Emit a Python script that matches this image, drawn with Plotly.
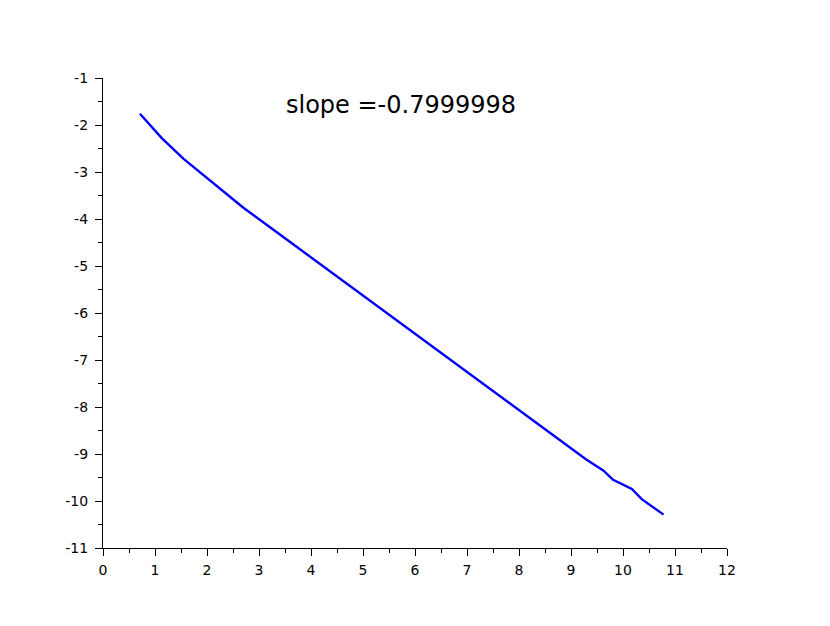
import plotly.graph_objects as go

x_vals = [0.71, 1.13, 1.55, 2.12, 2.70, 3.5, 4.5, 5.33, 6.5, 7.63, 8.79, 9.02, 9.30, 9.62, 9.81, 10.17, 10.36, 10.78]
y_vals = [-1.76, -2.28, -2.72, -3.24, -3.76, -4.41, -5.22, -5.90, -6.85, -7.76, -8.70, -8.89, -9.12, -9.35, -9.55, -9.745, -9.96, -10.29]
label_text = "slope =-0.7999998"
x_ticks = list(range(0, 13))
y_ticks = list(range(-11, 0))

fig = go.Figure()
fig.add_trace(go.Scatter(x=x_vals, y=y_vals, mode="lines",
                         line=dict(color="#0000ff", width=2.4), showlegend=False))

fig.add_annotation(x=5.73, y=-1.57, text=label_text, showarrow=False,
                   font=dict(size=24, color="black", family="DejaVu Sans"),
                   xanchor="center", yanchor="middle")

axis_common = dict(showline=True, linecolor="black", linewidth=1.3, ticks="outside",
                   ticklen=7, tickcolor="black", tickwidth=1.3, showgrid=False, zeroline=False,
                   tickfont=dict(family="DejaVu Sans", size=14, color="black"),
                   minor=dict(ticks="outside", ticklen=4, tickcolor="black", tickwidth=1.3,
                              dtick=0.5, showgrid=False))

fig.update_xaxes(range=[0, 12], tickvals=x_ticks, ticktext=[str(v) for v in x_ticks],
                 ticklabelstandoff=2, **axis_common)
fig.update_yaxes(range=[-11, -1], tickvals=y_ticks, ticktext=[str(v) for v in y_ticks],
                 ticklabelstandoff=4, **axis_common)

fig.update_layout(width=830, height=626, margin=dict(l=95, r=111, t=70, b=86),
                  plot_bgcolor="white", paper_bgcolor="white",
                  font=dict(family="DejaVu Sans", color="black"))

fig.write_html("out.html")
